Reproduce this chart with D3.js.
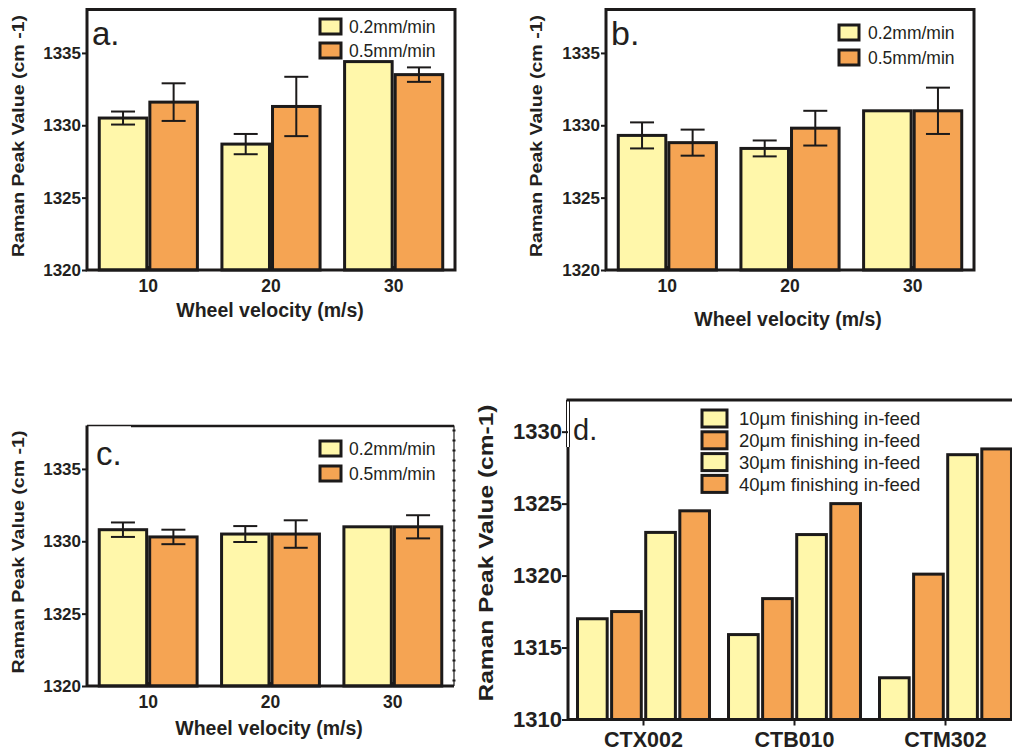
<!DOCTYPE html>
<html><head><meta charset="utf-8">
<script src="https://cdn.jsdelivr.net/npm/d3@7/dist/d3.min.js"></script>
<style>
body{margin:0;background:#fff;}
svg{display:block;}
text{font-family:"Liberation Sans",Arial,Helvetica,sans-serif;fill:#231f20;}
</style></head><body>
<svg id="chart" width="1012" height="754"></svg>
<script>
// ---------- data ----------
const velocities = ["10", "20", "30"];
const feedRates = ["0.2mm/min", "0.5mm/min"];
const yTicksABC = [1320, 1325, 1330, 1335];

const a02 = [1330.5, 1328.7, 1334.4];
const a02Err = [0.45, 0.7, 0];
const a05 = [1331.6, 1331.3, 1333.5];
const a05Err = [1.3, 2.05, 0.5];

const b02 = [1329.3, 1328.4, 1331.0];
const b02Err = [0.9, 0.55, 0];
const b05 = [1328.8, 1329.8, 1331.0];
const b05Err = [0.9, 1.2, 1.6];

const c02 = [1330.8, 1330.5, 1331.0];
const c02Err = [0.5, 0.55, 0];
const c05 = [1330.3, 1330.5, 1331.0];
const c05Err = [0.5, 0.95, 0.8];

const grades = ["CTX002", "CTB010", "CTM302"];
const infeeds = ["10\u03bcm finishing in-feed", "20\u03bcm finishing in-feed", "30\u03bcm finishing in-feed", "40\u03bcm finishing in-feed"];
const d10 = [1317.0, 1315.9, 1312.9];
const d20 = [1317.5, 1318.4, 1320.1];
const d30 = [1323.0, 1322.85, 1328.4];
const d40 = [1324.5, 1325.0, 1328.8];
const yTicksD = [1310, 1315, 1320, 1325, 1330];

// ---------- style ----------
const YELLOW = "#fff7aa", ORANGE = "#f5a453", INK = "#1c1a1a";
const svg = d3.select("#chart");
svg.append("rect").attr("width", 1012).attr("height", 754).attr("fill", "#fff");

function panel(o) {
  const g = svg.append("g");
  const x0 = d3.scaleBand().domain(o.cats).range([o.left, o.right]).paddingInner(o.pi).paddingOuter(o.po);
  const x1 = d3.scaleBand().domain(d3.range(o.series.length)).range([0, x0.bandwidth()]).paddingInner(o.pin);
  const y = d3.scaleLinear().domain(o.yDomain).range([o.bottom, o.top]);
  const base = y(o.yDomain[0]);

  // bars
  o.series.forEach((vals, si) => {
    g.selectAll(null).data(vals).join("rect")
      .attr("x", (d, i) => x0(o.cats[i]) + x1(si))
      .attr("y", d => y(d))
      .attr("width", x1.bandwidth())
      .attr("height", d => base - y(d))
      .attr("fill", o.colors[si]).attr("stroke", INK).attr("stroke-width", 3);
  });
  // error bars
  if (o.errors) {
    o.errors.forEach((errs, si) => {
      errs.forEach((e, i) => {
        if (!e) return;
        const cx = x0(o.cats[i]) + x1(si) + x1.bandwidth() / 2;
        const v = o.series[si][i];
        const eg = g.append("g").attr("stroke", INK).attr("stroke-width", 2);
        eg.append("line").attr("x1", cx).attr("x2", cx).attr("y1", y(v + e)).attr("y2", y(v - e));
        eg.append("line").attr("x1", cx - 12).attr("x2", cx + 12).attr("y1", y(v + e)).attr("y2", y(v + e));
        eg.append("line").attr("x1", cx - 12).attr("x2", cx + 12).attr("y1", y(v - e)).attr("y2", y(v - e));
      });
    });
  }

  // frame
  const f = g.append("g").attr("fill", "none").attr("stroke", INK);
  if (o.frame === "box") {
    f.append("rect").attr("x", o.left).attr("y", o.top).attr("width", o.right - o.left).attr("height", o.bottom - o.top).attr("stroke-width", 3);
  } else if (o.frame === "c") {
    f.append("line").attr("x1", o.left).attr("x2", o.left).attr("y1", o.top).attr("y2", o.bottom).attr("stroke-width", 3);
    f.append("line").attr("x1", o.left).attr("x2", o.right).attr("y1", o.bottom).attr("y2", o.bottom).attr("stroke-width", 3);
    f.append("line").attr("x1", o.left).attr("x2", o.left + 44).attr("y1", o.top).attr("y2", o.top).attr("stroke-width", 1.5);
    f.append("line").attr("x1", o.left + 44).attr("x2", o.right).attr("y1", o.top + 0.5).attr("y2", o.top + 0.5).attr("stroke-width", 2.5);
    f.append("line").attr("x1", o.right).attr("x2", o.right).attr("y1", o.top).attr("y2", o.bottom).attr("stroke-width", 1.2);
    f.append("line").attr("x1", o.right).attr("x2", o.right).attr("y1", o.top + 4).attr("y2", o.bottom).attr("stroke-width", 3).attr("stroke-dasharray", "2,8");
  } else if (o.frame === "d") {
    f.append("line").attr("x1", o.left).attr("x2", 1012).attr("y1", o.bottom).attr("y2", o.bottom).attr("stroke-width", 3);
    f.append("line").attr("x1", o.left - 1.5).attr("x2", 1012).attr("y1", o.top).attr("y2", o.top).attr("stroke-width", 3);
    f.append("line").attr("x1", o.left).attr("x2", o.left).attr("y1", o.top + 47).attr("y2", o.bottom + 1.5).attr("stroke-width", 3);
    f.append("line").attr("x1", o.left - 1.5).attr("x2", o.left - 1.5).attr("y1", o.top).attr("y2", o.top + 47).attr("stroke-width", 1);
    f.append("line").attr("x1", o.left + 1.5).attr("x2", o.left + 1.5).attr("y1", o.top).attr("y2", o.top + 47).attr("stroke-width", 1);
  }

  // y axis
  const ya = g.append("g").attr("transform", `translate(${o.left},0)`)
    .call(d3.axisLeft(y).tickValues(o.yTicks).tickSize(o.yTickSize).tickPadding(o.yTickPad).tickFormat(d3.format("d")));
  ya.select(".domain").remove();
  ya.selectAll("line").attr("stroke", INK).attr("stroke-width", 2);
  ya.selectAll("text").attr("font-family", "Liberation Sans, Arial, sans-serif")
    .attr("font-size", o.yFont).attr("font-weight", "bold").attr("fill", "#231f20");

  // x axis
  const xa = g.append("g").attr("transform", `translate(0,${o.bottom})`)
    .call(d3.axisBottom(x0).tickSize(o.xTickSize).tickPadding(o.xTickPad));
  xa.select(".domain").remove();
  xa.selectAll("line").attr("stroke", INK).attr("stroke-width", 2);
  xa.selectAll("text").attr("font-family", "Liberation Sans, Arial, sans-serif")
    .attr("font-size", o.xFont).attr("font-weight", "bold").attr("fill", "#231f20");

  // titles
  if (o.xTitle) {
    g.append("text").attr("x", o.xTitle.x).attr("y", o.xTitle.y).attr("text-anchor", "middle")
      .attr("font-size", o.xTitle.size).attr("font-weight", "bold").text(o.xTitle.text);
  }
  g.append("text").attr("transform", `translate(${o.yTitle.x},${o.yTitle.y}) rotate(-90)`)
    .attr("text-anchor", "middle").attr("font-size", o.yTitle.size).attr("font-weight", "bold")
    .attr("textLength", o.yTitle.len).attr("lengthAdjust", "spacingAndGlyphs")
    .text(o.yTitle.text);

  // panel letter
  g.append("text").attr("x", o.letter.x).attr("y", o.letter.y).attr("font-size", o.letter.size).text(o.letter.text);

  // legend
  const L = o.legend;
  L.names.forEach((n, i) => {
    const yy = L.y + i * L.dy;
    g.append("rect").attr("x", L.x).attr("y", yy).attr("width", L.sw).attr("height", L.sh)
      .attr("fill", o.colors[i]).attr("stroke", INK).attr("stroke-width", 3);
    g.append("text").attr("x", L.tx).attr("y", yy + L.sh / 2).attr("dy", "0.36em")
      .attr("font-size", L.size).text(n);
  });
}

const common = {
  cats: velocities, pi: 0.2, po: 0.1, pin: 0.06,
  colors: [YELLOW, ORANGE], yDomain: [1320, 1338], yTicks: yTicksABC,
  yTickSize: 5, yTickPad: 1, yFont: 17, xTickSize: -4, xTickPad: 10, xFont: 17.5
};
const yLabABC = "Raman Peak Value (cm -1)";

panel(Object.assign({}, common, {
  left: 87, right: 455, top: 9.5, bottom: 270,
  series: [a02, a05], errors: [a02Err, a05Err], frame: "box",
  xTitle: {x: 270, y: 317, size: 19.5, text: "Wheel velocity (m/s)"},
  yTitle: {x: 24, y: 136, size: 16, len: 242, text: yLabABC},
  letter: {x: 92, y: 45, size: 33, text: "a."},
  legend: {names: feedRates, x: 320, y: 19, dy: 24, sw: 21, sh: 15, tx: 349, size: 17.5}
}));

panel(Object.assign({}, common, {
  left: 606, right: 974, top: 9.5, bottom: 270,
  series: [b02, b05], errors: [b02Err, b05Err], frame: "box",
  xTitle: {x: 788, y: 326, size: 19.5, text: "Wheel velocity (m/s)"},
  yTitle: {x: 542, y: 136, size: 16, len: 242, text: yLabABC},
  letter: {x: 611, y: 45, size: 34, text: "b."},
  legend: {names: feedRates, x: 839, y: 25, dy: 25, sw: 20, sh: 15, tx: 868, size: 17.5}
}));

panel(Object.assign({}, common, {
  left: 87, right: 454, top: 425.5, bottom: 686,
  series: [c02, c05], errors: [c02Err, c05Err], frame: "c",
  xTitle: {x: 269, y: 735, size: 19.5, text: "Wheel velocity (m/s)"},
  yTitle: {x: 24, y: 552, size: 16, len: 243, text: yLabABC},
  letter: {x: 96, y: 465, size: 33, text: "c."},
  legend: {names: feedRates, x: 320, y: 441, dy: 25, sw: 21, sh: 15, tx: 349, size: 17.5}
}));

panel({
  cats: grades, pi: 0.126, po: 0.063, pin: 0.13,
  left: 568, right: 1021, top: 400, bottom: 719.5,
  colors: [YELLOW, ORANGE, YELLOW, ORANGE], yDomain: [1310, 1332.2], yTicks: yTicksD,
  series: [d10, d20, d30, d40], errors: null, frame: "d",
  yTickSize: 6, yTickPad: 0, yFont: 22, xTickSize: 6, xTickPad: 6, xFont: 21.5,
  xTitle: null,
  yTitle: {x: 493, y: 553, size: 20, len: 297, text: "Raman Peak Value (cm-1)"},
  letter: {x: 573, y: 440, size: 29, text: "d."},
  legend: {names: infeeds, x: 702, y: 410, dy: 21.8, sw: 25, sh: 17, tx: 739, size: 18.5}
});
</script>
</body></html>
